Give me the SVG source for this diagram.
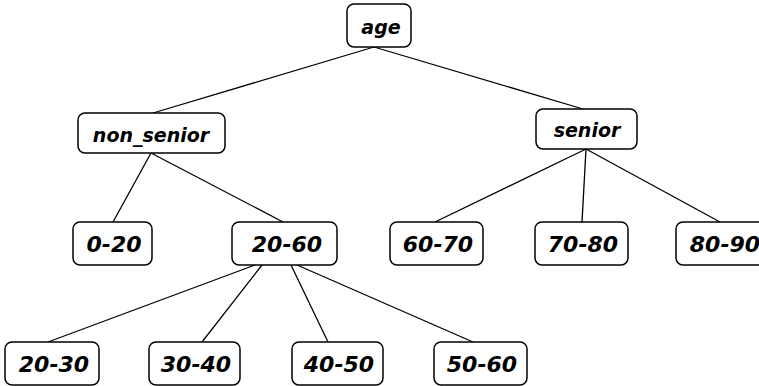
<svg xmlns="http://www.w3.org/2000/svg" width="759" height="386" viewBox="0 0 759 386">
<style>
rect{fill:#fff;stroke:#000;stroke-width:1.5}
text{font-family:"DejaVu Sans",sans-serif;font-weight:bold;font-style:italic;text-anchor:middle;fill:#000}
.s{font-size:19px}
.d{font-size:22px}
#edges line{stroke:#000;stroke-width:1.3}
</style>
<rect x="0" y="0" width="759" height="386" style="fill:#fff;stroke:none"/>
<g id="edges">
<line x1="374" y1="47" x2="153" y2="113"/>
<line x1="374" y1="47" x2="583" y2="109"/>
<line x1="151" y1="153" x2="113" y2="222"/>
<line x1="151" y1="153" x2="283" y2="222"/>
<line x1="586" y1="149" x2="435" y2="222"/>
<line x1="586" y1="149" x2="582" y2="222"/>
<line x1="586" y1="149" x2="720" y2="222"/>
<line x1="255" y1="265" x2="48" y2="342"/>
<line x1="262" y1="265" x2="202" y2="342"/>
<line x1="291" y1="265" x2="328" y2="342"/>
<line x1="297" y1="265" x2="473" y2="342"/>
</g>
<g id="age"><rect x="347" y="4" width="64" height="43" rx="7"/><text class="s" x="381" y="34">age</text></g>
<g id="non_senior"><rect x="78" y="113" width="147" height="40" rx="7"/><text class="s" x="151" y="142">non_senior</text></g>
<g id="senior"><rect x="536" y="109" width="101" height="40" rx="7"/><text class="s" x="587" y="137">senior</text></g>
<g id="n0-20"><rect x="73" y="222" width="79" height="43" rx="7"/><text class="d" x="114" y="252">0-20</text></g>
<g id="n20-60"><rect x="232" y="222" width="105" height="43" rx="7"/><text class="d" x="287" y="252">20-60</text></g>
<g id="n60-70"><rect x="390" y="222" width="93" height="43" rx="7"/><text class="d" x="438" y="252">60-70</text></g>
<g id="n70-80"><rect x="535" y="222" width="93" height="43" rx="7"/><text class="d" x="583" y="252">70-80</text></g>
<g id="n80-90"><rect x="676" y="222" width="96" height="43" rx="7"/><text class="d" x="725" y="252">80-90</text></g>
<g id="n20-30"><rect x="5" y="342" width="94" height="43" rx="7"/><text class="d" x="54" y="372">20-30</text></g>
<g id="n30-40"><rect x="149" y="342" width="91" height="43" rx="7"/><text class="d" x="196" y="372">30-40</text></g>
<g id="n40-50"><rect x="292" y="342" width="91" height="43" rx="7"/><text class="d" x="339" y="372">40-50</text></g>
<g id="n50-60"><rect x="434" y="342" width="93" height="43" rx="7"/><text class="d" x="482" y="372">50-60</text></g>
</svg>
